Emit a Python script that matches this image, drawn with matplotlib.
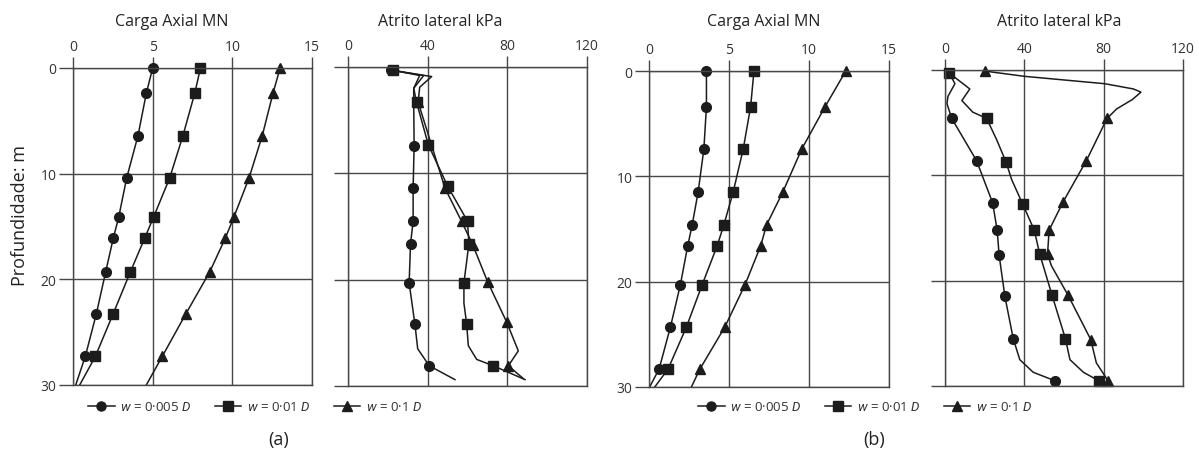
import matplotlib.pyplot as plt
from matplotlib.lines import Line2D

plt.rcParams['font.family'] = ['Open Sans', 'DejaVu Sans']
plt.rcParams['mathtext.fontset'] = 'custom'
plt.rcParams['mathtext.it'] = 'Roboto:italic'
plt.rcParams['mathtext.rm'] = 'Roboto'

GRID = '#474747'
INK = '#1c1c1c'

# ---- (a) Carga axial (MN) ----
A_CARGA_Z = [0, 2.4, 6.4, 10.4, 14.1, 16.1, 19.3, 23.3, 27.3, 30]
A_CARGA_C = [5.0, 4.6, 4.08, 3.37, 2.87, 2.53, 2.05, 1.46, 0.77, 0.17]
A_CARGA_S = [8.0, 7.64, 6.9, 6.07, 5.06, 4.5, 3.6, 2.51, 1.4, 0.42]
A_CARGA_T = [13.0, 12.55, 11.88, 11.05, 10.1, 9.56, 8.58, 7.07, 5.6, 4.6]
A_CARGA_MK = list(range(9))

# ---- (a) Atrito lateral (kPa) ----
A_AT_C_Z = [0.3, 0.8, 2.0, 3.3, 7.4, 11.4, 14.5, 16.6, 20.3, 24.2, 26.5, 28.1, 29.4]
A_AT_C_V = [21.5, 38, 33, 33, 33.2, 32.7, 32.7, 31.4, 30.7, 33.6, 35, 40.8, 53.7]
A_AT_C_MK = [0, 4, 5, 6, 7, 8, 9, 11]

A_AT_S_Z = [0.3, 0.8, 2.0, 3.3, 7.3, 11.2, 14.5, 16.6, 18.4, 20.3, 22.2, 24.2, 26.2, 27.5, 28.1, 29.4]
A_AT_S_V = [22.6, 36, 33, 34.4, 40.3, 50, 60, 60.7, 59.5, 58.2, 58.2, 59.6, 60.4, 64.6, 73, 88.9]
A_AT_S_MK = [0, 3, 4, 5, 6, 7, 9, 11, 14]

A_AT_T_Z = [0.3, 0.9, 1.9, 3.3, 11.4, 14.5, 16.7, 20.2, 24.0, 26.7, 28.1, 29.3]
A_AT_T_V = [22, 42, 36, 35.2, 48.7, 57, 62.6, 70.1, 79.7, 85.5, 80.5, 88]
A_AT_T_MK = [3, 4, 5, 6, 7, 8, 10]

# ---- (b) Carga axial (MN) ----
B_CARGA_Z = [0, 3.4, 7.4, 11.5, 14.6, 16.6, 20.3, 24.3, 28.3, 30]
B_CARGA_C = [3.59, 3.59, 3.43, 3.07, 2.7, 2.42, 1.96, 1.34, 0.63, 0.04]
B_CARGA_S = [6.56, 6.35, 5.89, 5.26, 4.68, 4.26, 3.32, 2.34, 1.19, 0.36]
B_CARGA_T = [12.3, 11.0, 9.55, 8.36, 7.35, 6.98, 6.0, 4.74, 3.18, 2.65]
B_CARGA_MK = list(range(9))

# ---- (b) Atrito lateral (kPa) ----
B_AT_C_Z = [0.3, 1.3, 2.5, 3.2, 4.6, 8.6, 12.6, 15.2, 17.6, 21.5, 25.5, 27.5, 28.7, 29.5]
B_AT_C_V = [2.2, 5, 1.5, 1, 3.4, 15.9, 24, 26.3, 27.3, 30.2, 34.4, 37.7, 44.5, 55.4]
B_AT_C_MK = [4, 5, 6, 7, 8, 9, 10, 13]

B_AT_S_Z = [0.3, 1.8, 2.9, 4.0, 4.6, 6.6, 8.7, 10.4, 12.7, 15.2, 17.5, 21.4, 25.5, 27.5, 28.7, 29.5]
B_AT_S_V = [2.2, 12.5, 8.5, 14, 21, 26, 30.7, 33.6, 39.1, 45, 47.8, 54, 60.7, 63, 69.8, 77.5]
B_AT_S_MK = [0, 4, 6, 8, 9, 10, 11, 12, 15]

B_AT_T_Z = [0.1, 0.6, 1.3, 1.8, 2.1, 2.8, 3.7, 4.6, 8.6, 12.5, 15.2, 17.5, 18.6, 21.4, 25.6, 27.8, 29.5]
B_AT_T_V = [20, 40, 80.5, 95, 98.8, 94.5, 86.5, 81.7, 71.3, 59.6, 52.5, 51.7, 53.7, 62.1, 73.5, 76.3, 82.2]
B_AT_T_MK = [0, 7, 8, 9, 10, 11, 13, 14, 16]

LEG_LABELS = [r'$w$ = 0·005 $D$', r'$w$ = 0·01 $D$', r'$w$ = 0·1 $D$']

fig = plt.figure(figsize=(11.99, 4.6), dpi=100)


def make_axes(rect, xmax, xticks, ylabels):
    ax = fig.add_axes(rect)
    ax.set_xlim(0, xmax)
    ax.set_ylim(30, 0)
    ax.xaxis.tick_top()
    ax.set_xticks(xticks)
    ax.set_yticks([0, 10, 20, 30])
    ax.grid(True, color=GRID, lw=1.0)
    ax.tick_params(axis='x', length=8, width=1, color=GRID, pad=2,
                   labelsize=10, labelcolor='#333333')
    ax.tick_params(axis='y', length=10, width=1, color=GRID, pad=2,
                   labelsize=10, labelcolor='#333333', labelleft=ylabels)
    for s in ax.spines.values():
        s.set_color(GRID)
        s.set_linewidth(1.0)
    return ax


def curve(ax, vals, depths, marker, mk):
    ax.plot(vals, depths, color=INK, lw=1.1, marker=marker, markevery=mk,
            ms=6.5 if marker != 'o' else 7, mfc=INK, mec=INK, clip_on=False)


ax1 = make_axes([73/1199, 1-386/460, 239/1199, 317/460], 15, [0, 5, 10, 15], True)
curve(ax1, A_CARGA_C, A_CARGA_Z, 'o', A_CARGA_MK)
curve(ax1, A_CARGA_S, A_CARGA_Z, 's', A_CARGA_MK)
curve(ax1, A_CARGA_T, A_CARGA_Z, '^', A_CARGA_MK)

ax2 = make_axes([348/1199, 1-387/460, 239/1199, 319/460], 120, [0, 40, 80, 120], False)
curve(ax2, A_AT_C_V, A_AT_C_Z, 'o', A_AT_C_MK)
curve(ax2, A_AT_T_V, A_AT_T_Z, '^', A_AT_T_MK)
curve(ax2, A_AT_S_V, A_AT_S_Z, 's', A_AT_S_MK)

ax3 = make_axes([649/1199, 1-388/460, 240/1199, 316/460], 15, [0, 5, 10, 15], True)
curve(ax3, B_CARGA_C, B_CARGA_Z, 'o', B_CARGA_MK)
curve(ax3, B_CARGA_S, B_CARGA_Z, 's', B_CARGA_MK)
curve(ax3, B_CARGA_T, B_CARGA_Z, '^', B_CARGA_MK)

ax4 = make_axes([945/1199, 1-387/460, 238/1199, 316/460], 120, [0, 40, 80, 120], False)
curve(ax4, B_AT_C_V, B_AT_C_Z, 'o', B_AT_C_MK)
curve(ax4, B_AT_T_V, B_AT_T_Z, '^', B_AT_T_MK)
curve(ax4, B_AT_S_V, B_AT_S_Z, 's', B_AT_S_MK)

# titles
for x, t in [(172, 'Carga Axial MN'), (440, 'Atrito lateral kPa'),
             (764, 'Carga Axial MN'), (1059, 'Atrito lateral kPa')]:
    fig.text(x/1199, 1-22/460, t, ha='center', va='center', fontsize=11.5, color='#222222')

fig.text(20/1199, 1-215/460, 'Profundidade: m', rotation=90, ha='center', va='center',
         fontsize=13, color='#222222')

# legends
handles = [Line2D([], [], color=INK, lw=1.1, marker=m, ms=6.5, mfc=INK, mec=INK)
           for m in ['o', 's', '^']]
for cx in [255, 865]:
    fig.legend(handles, LEG_LABELS, loc='center', bbox_to_anchor=(cx/1199, 1-408/460),
               ncol=3, frameon=False, fontsize=9.5, handlelength=2.0,
               handletextpad=0.4, columnspacing=1.8, labelcolor='#333333')

fig.text(279/1199, 1-440/460, '(a)', ha='center', va='center', fontsize=13, color='#222222')
fig.text(874/1199, 1-440/460, '(b)', ha='center', va='center', fontsize=13, color='#222222')

fig.savefig('out.png', dpi=100)
